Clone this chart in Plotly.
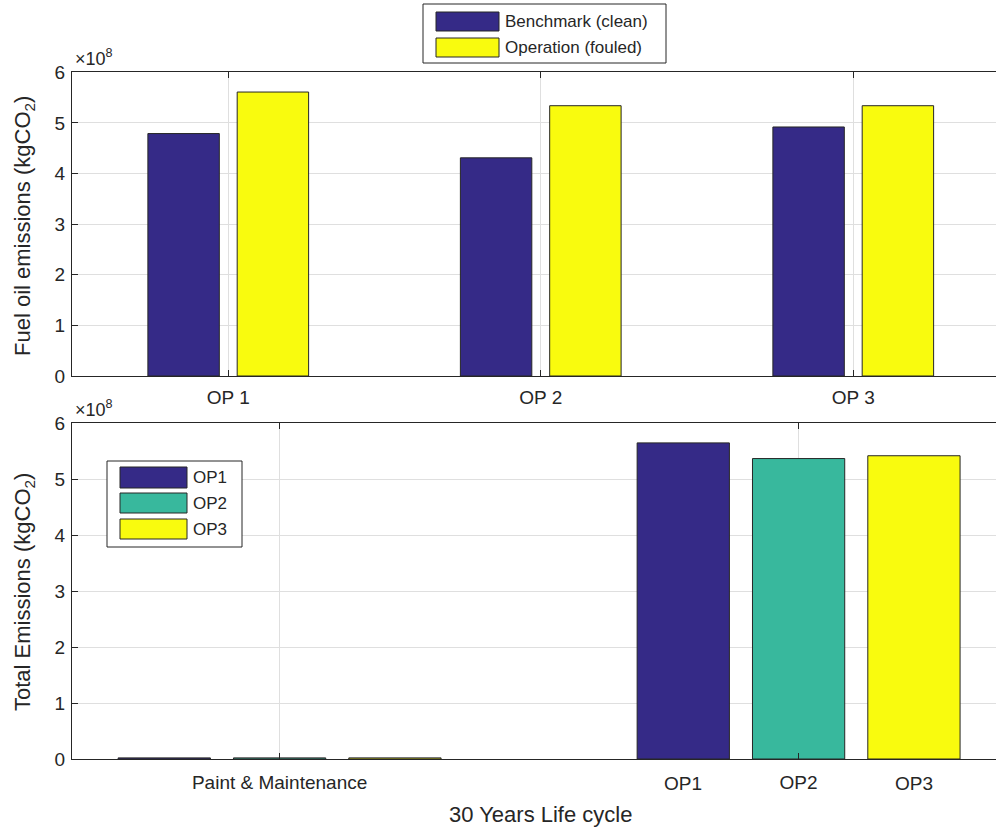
import plotly.graph_objects as go

# ---- data -----------------------------------------------------------------
op_labels = ["OP 1", "OP 2", "OP 3"]
benchmark_clean = [4.79e8, 4.31e8, 4.92e8]
operation_fouled = [5.61e8, 5.34e8, 5.34e8]

life_groups = ["Paint & Maintenance", "Total"]
series_names = ["OP1", "OP2", "OP3"]
total_op1 = [2.0e6, 5.65e8]
total_op2 = [2.0e6, 5.37e8]
total_op3 = [2.0e6, 5.42e8]

y_ticks = [0, 1, 2, 3, 4, 5, 6]

# ---- style ----------------------------------------------------------------
W, H = 996, 830
FONT = "Liberation Sans"
INK = "#262626"
GRID = "#dfdfdf"
C_BLUE = "#352a87"
C_TEAL = "#38b89d"
C_YEL = "#f9fb0e"


def px(x):
    return x / W


def py(y):
    return 1 - y / H


def group_layout(n):
    """Grouped-bar geometry: bar width and left-edge offsets for n series."""
    gw = min(0.8, n / (n + 1.5))
    step = gw / n
    width = 0.8 * step
    offsets = [(i - (n - 1) / 2) * step - width / 2 for i in range(n)]
    centers = [(i - (n - 1) / 2) * step for i in range(n)]
    return width, offsets, centers


fig = go.Figure()

# top panel: fuel oil emissions per operating profile
w2, off2, _ = group_layout(2)
cats_top = list(range(1, len(op_labels) + 1))
for vals, col, name, off in [
    (benchmark_clean, C_BLUE, "Benchmark (clean)", off2[0]),
    (operation_fouled, C_YEL, "Operation (fouled)", off2[1]),
]:
    fig.add_trace(go.Bar(
        x=cats_top, y=vals, name=name, width=w2, offset=off,
        marker=dict(color=col, line=dict(color=INK, width=1)),
        xaxis="x", yaxis="y", showlegend=False,
    ))

# bottom panel: 30-year life-cycle totals
w3, off3, cen3 = group_layout(3)
cats_bot = list(range(1, len(life_groups) + 1))
for vals, col, name, off in [
    (total_op1, C_BLUE, series_names[0], off3[0]),
    (total_op2, C_TEAL, series_names[1], off3[1]),
    (total_op3, C_YEL, series_names[2], off3[2]),
]:
    fig.add_trace(go.Bar(
        x=cats_bot, y=vals, name=name, width=w3, offset=off,
        marker=dict(color=col, line=dict(color=INK, width=1)),
        xaxis="x2", yaxis="y2", showlegend=False,
    ))

tick_font = dict(family=FONT, size=19, color=INK)
left, right = 72, 996
span = right - left

xcommon = dict(
    showline=True, linecolor=INK, linewidth=1.3, mirror="ticks",
    ticks="inside", ticklen=6, tickcolor=INK, tickwidth=1,
    showgrid=True, gridcolor=GRID, gridwidth=1, zeroline=False,
    tickfont=tick_font, automargin=False, fixedrange=True,
)
ycommon = dict(
    showline=True, linecolor=INK, linewidth=1.3, mirror=False,
    ticks="inside", ticklen=6, tickcolor=INK, tickwidth=1,
    showgrid=True, gridcolor=GRID, gridwidth=1, zeroline=False,
    tickfont=tick_font, automargin=False, fixedrange=True,
    range=[0, 6e8], tickvals=[v * 1e8 for v in y_ticks],
    ticktext=[str(v) for v in y_ticks], ticklabelstandoff=2,
)

fig.update_layout(
    width=W, height=H,
    margin=dict(l=0, r=0, t=0, b=0),
    paper_bgcolor="white", plot_bgcolor="white",
    barmode="overlay",
    showlegend=False,
    xaxis=dict(xcommon, domain=[px(left), 1], anchor="y",
               range=[0.5, 0.5 + span / 312.5],
               tickvals=cats_top, ticktext=op_labels, ticklabelstandoff=4),
    yaxis=dict(ycommon, domain=[py(376), py(72.3)], anchor="x"),
    xaxis2=dict(xcommon, domain=[px(left), 1], anchor="y2",
                range=[0.6, 0.6 + span / 519.0],
                tickvals=cats_bot, ticktext=["Paint & Maintenance", series_names[1]],
                ticklabelstandoff=6),
    yaxis2=dict(ycommon, domain=[py(759), py(423.3)], anchor="x2"),
)

annotations = []
shapes = []

# OP1 / OP3 labels under the individual total bars
for idx in (0, 2):
    annotations.append(dict(
        x=cats_bot[1] + cen3[idx], y=py(783), xref="x2", yref="paper",
        text=series_names[idx], showarrow=False, font=tick_font,
        xanchor="center", yanchor="middle",
    ))

# exponent markers
for ytop in (71, 422):
    annotations.append(dict(
        x=px(73), y=py(ytop), xref="paper", yref="paper",
        text="×10<sup>8</sup>", showarrow=False,
        font=dict(family=FONT, size=18, color=INK),
        xanchor="left", yanchor="bottom",
    ))

title_font = dict(family=FONT, size=22, color=INK)
annotations += [
    dict(x=px(24), y=py(226), xref="paper", yref="paper", textangle=-90,
         text="Fuel oil emissions (kgCO<sub>2</sub>)", showarrow=False,
         font=title_font, xanchor="center", yanchor="middle"),
    dict(x=px(24), y=py(592), xref="paper", yref="paper", textangle=-90,
         text="Total Emissions (kgCO<sub>2</sub>)", showarrow=False,
         font=title_font, xanchor="center", yanchor="middle"),
    dict(x=px(540), y=py(814), xref="paper", yref="paper",
         text="30 Years Life cycle", showarrow=False,
         font=title_font, xanchor="center", yanchor="middle"),
]

# legends drawn as boxed swatches
leg_font = dict(family=FONT, size=17, color=INK)


def legend_box(x0, y0, x1, y1, sw_x0, sw_x1, rows, text_x):
    shapes.append(dict(type="rect", xref="paper", yref="paper",
                       x0=px(x0), x1=px(x1), y0=py(y1), y1=py(y0),
                       fillcolor="white", line=dict(color=INK, width=1),
                       layer="above"))
    for (ry0, ry1, col, label) in rows:
        shapes.append(dict(type="rect", xref="paper", yref="paper",
                           x0=px(sw_x0), x1=px(sw_x1), y0=py(ry1), y1=py(ry0),
                           fillcolor=col, line=dict(color=INK, width=1),
                           layer="above"))
        annotations.append(dict(x=px(text_x), y=py((ry0 + ry1) / 2),
                                xref="paper", yref="paper", text=label,
                                showarrow=False, font=leg_font,
                                xanchor="left", yanchor="middle"))


legend_box(423, 4, 666, 63, 436, 499,
           [(12, 31, C_BLUE, "Benchmark (clean)"),
            (38, 57, C_YEL, "Operation (fouled)")], 503)
legend_box(107, 461, 242, 547, 120, 187,
           [(467, 488, C_BLUE, series_names[0]),
            (493, 513, C_TEAL, series_names[1]),
            (519, 539, C_YEL, series_names[2])], 191)

fig.update_layout(annotations=annotations, shapes=shapes)

fig.write_html("out.html")
